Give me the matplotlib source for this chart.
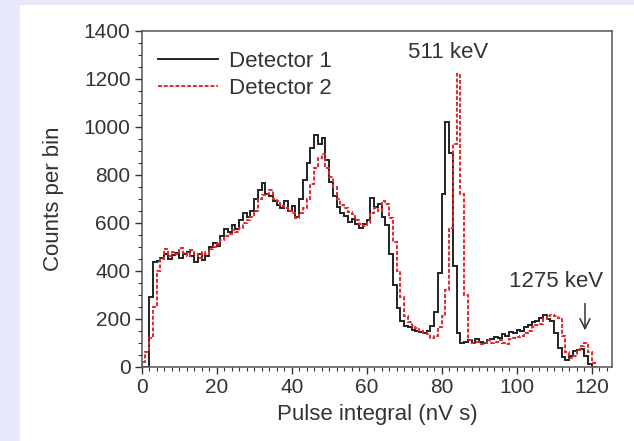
import numpy as np
import matplotlib
matplotlib.use("Agg")
import matplotlib.pyplot as plt
from matplotlib.ticker import MultipleLocator

# histogram counts, 1 nV s bins starting at 0
det1 = [0, 0, 290, 435, 440, 455, 470, 450, 465, 475,
        455, 470, 480, 460, 435, 470, 445, 460, 500, 515,
        505, 545, 575, 560, 590, 575, 610, 640, 625, 650,
        700, 735, 765, 720, 710, 690, 675, 660, 690, 650,
        670, 625, 700, 780, 850, 910, 965, 930, 955, 860,
        770, 710, 665, 640, 630, 605, 615, 595, 580, 595,
        610, 705, 665, 680, 625, 590, 470, 340, 245, 190,
        170, 165, 155, 150, 145, 140, 150, 170, 230, 390,
        720, 1020, 890, 420, 140, 100, 105, 110, 100, 115,
        105, 100, 110, 115, 125, 120, 135, 130, 145, 140,
        155, 150, 165, 175, 185, 190, 205, 215, 200, 190,
        140, 80, 40, 30, 45, 65, 70, 75, 45, 10, 0]

det2 = [20, 60, 120, 250, 400, 450, 490, 460, 480, 470,
        495, 475, 460, 485, 470, 455, 480, 470, 490, 500,
        510, 530, 545, 555, 570, 560, 580, 600, 610, 625,
        650, 700, 715, 720, 735, 700, 690, 670, 660, 650,
        640, 620, 640, 660, 700, 760, 830, 870, 885, 830,
        790, 750, 700, 675, 660, 645, 635, 610, 595, 585,
        600, 640, 660, 650, 690, 680, 620, 520, 400, 290,
        210, 185, 170, 160, 150, 140, 135, 120, 130, 165,
        210, 320, 580, 930, 1220, 720, 300, 110, 100, 105,
        95, 100, 110, 100, 105, 110, 100, 95, 115, 120,
        125, 130, 140, 150, 165, 175, 180, 200, 210, 215,
        210, 205, 130, 60, 35, 45, 70, 85, 100, 60, 15, 0]

edges1 = np.arange(len(det1) + 1)
edges2 = np.arange(len(det2) + 1)

plt.rcParams['font.family'] = ['Liberation Sans', 'DejaVu Sans']

fig = plt.figure(figsize=(6.34, 4.41), dpi=100)
fig.patch.set_facecolor('#e8e8fb')
# white panel like the slide
fig.patches.append(plt.Rectangle((20/634, 0), 1, 1 - 5/441, transform=fig.transFigure,
                                 facecolor='white', edgecolor='none', zorder=-10))

ax = fig.add_axes([141.7/634, 1 - 366.7/441, (612 - 141.7)/634, (366.7 - 31)/441])

ax.stairs(det1, edges1, color='#222222', linewidth=1.4, label='Detector 1')
ax.stairs(det2, edges2, color='#e02a2a', linewidth=1.4, linestyle=(0, (2, 1)),
          label='Detector 2')

ax.set_xlim(0, 125.4)
ax.set_ylim(0, 1400)
ax.xaxis.set_major_locator(MultipleLocator(20))
ax.xaxis.set_minor_locator(MultipleLocator(2))
ax.yaxis.set_major_locator(MultipleLocator(200))
ax.yaxis.set_minor_locator(MultipleLocator(50))
ax.tick_params(which='major', direction='out', length=5, width=1, labelsize=15,
               colors='#333333', pad=3)
ax.tick_params(which='minor', direction='out', length=3, width=0.8, colors='#333333')
for s in ax.spines.values():
    s.set_color('#555555')
    s.set_linewidth(1.1)

ax.set_xlabel('Pulse integral (nV s)', fontsize=16, color='#333333', labelpad=5)
ax.set_ylabel('Counts per bin', fontsize=16, color='#333333', labelpad=14)

ax.text(81.8, 1310, '511 keV', fontsize=16, color='#333333', ha='center', va='center')
ax.text(110.5, 355, '1275 keV', fontsize=16, color='#333333', ha='center', va='center')
ax.annotate('', xy=(118.2, 140), xytext=(118.2, 275),
            arrowprops=dict(arrowstyle='->', color='#333333', lw=1.1, mutation_scale=18))

leg = ax.legend(loc='upper left', bbox_to_anchor=(0.035, 0.94), frameon=False,
                fontsize=16, handlelength=2.7, handletextpad=0.5,
                labelspacing=0.25, borderaxespad=0, borderpad=0)
for t in leg.get_texts():
    t.set_color('#333333')

fig.savefig('out.png', dpi=100, facecolor=fig.get_facecolor())
